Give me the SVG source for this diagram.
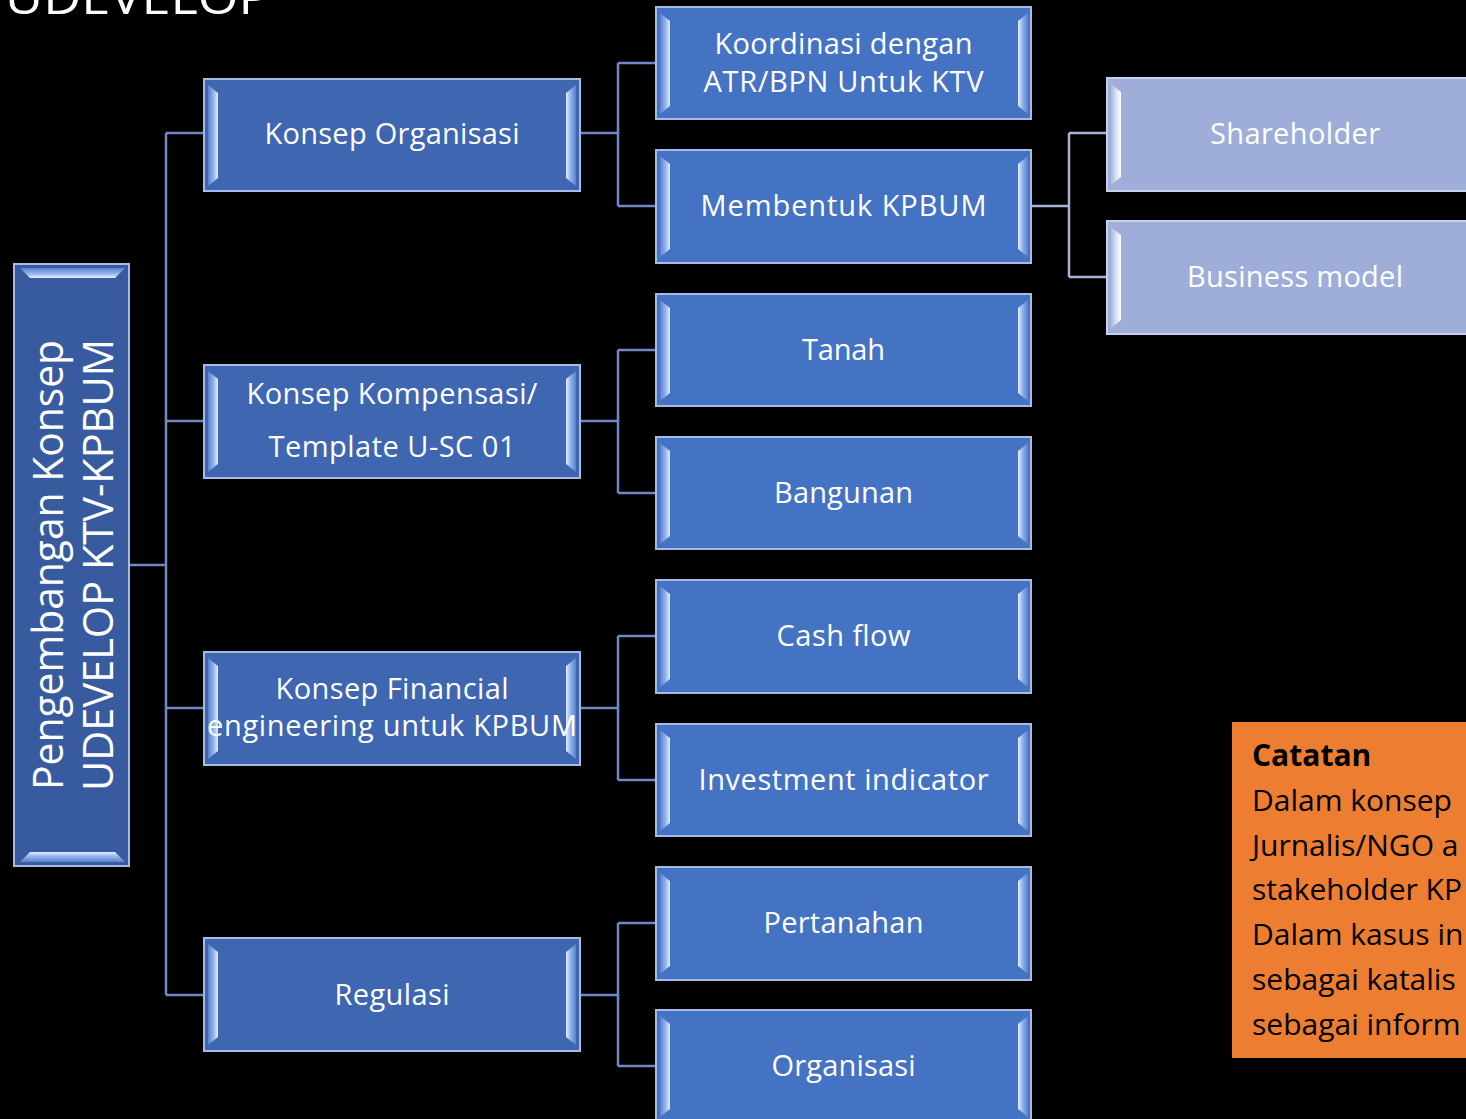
<svg xmlns="http://www.w3.org/2000/svg" width="1466" height="1119" viewBox="0 0 1466 1119">
<defs>
<style>
.lbl{font-family:"Open Sans","Liberation Sans",sans-serif;font-size:29px;fill:#ffffff;text-anchor:middle}
.note{font-family:"Open Sans","Liberation Sans",sans-serif;font-size:30px;fill:#000000}
.l1{fill:#3E66B1;stroke:#A9BBE2;stroke-width:2}
.l2{fill:#4573C4;stroke:#A9BBE2;stroke-width:2}
.l3{fill:#9EAED9;stroke:#C7D1EC;stroke-width:2}
.root{fill:#385B9F;stroke:#A9BBE2;stroke-width:2}
.conn{fill:none;stroke:#7089C4;stroke-width:2.5}
.conn3{fill:none;stroke:#A8B4D6;stroke-width:2.5}
</style>
<linearGradient id="gL" x1="0" y1="0" x2="1" y2="0">
<stop offset="0" stop-color="#5a80cc"/><stop offset="0.6" stop-color="#9ab8ef"/><stop offset="1" stop-color="#e6f0ff"/>
</linearGradient>
<linearGradient id="gR" x1="0" y1="0" x2="1" y2="0">
<stop offset="0" stop-color="#e6f0ff"/><stop offset="0.4" stop-color="#9ab8ef"/><stop offset="1" stop-color="#5a80cc"/>
</linearGradient>
<linearGradient id="gT" x1="0" y1="0" x2="0" y2="1">
<stop offset="0" stop-color="#5a80cc"/><stop offset="0.6" stop-color="#9ab8ef"/><stop offset="1" stop-color="#e6f0ff"/>
</linearGradient>
<linearGradient id="gB" x1="0" y1="0" x2="0" y2="1">
<stop offset="0" stop-color="#e6f0ff"/><stop offset="0.4" stop-color="#9ab8ef"/><stop offset="1" stop-color="#5a80cc"/>
</linearGradient>
<linearGradient id="gL3" x1="0" y1="0" x2="1" y2="0">
<stop offset="0" stop-color="#a9b8e0"/><stop offset="0.6" stop-color="#dfe6f7"/><stop offset="1" stop-color="#ffffff"/>
</linearGradient>
<g id="bev">
<path d="M4 6 L14 14 L14 99 L4 107 Z" fill="url(#gL)"/>
<path d="M372 6 L362 14 L362 99 L372 107 Z" fill="url(#gR)"/>
</g>
<g id="bev3">
<path d="M4 6 L14 14 L14 99 L4 107 Z" fill="url(#gL3)"/>
</g>
</defs>
<rect x="0" y="0" width="1466" height="1119" fill="#000000"/>
<text x="5" y="14" font-family="Open Sans, Liberation Sans, sans-serif" font-size="46" fill="#ffffff" textLength="265" lengthAdjust="spacingAndGlyphs">UDEVELOP</text>

<g id="connectors">
<path class="conn" d="M129 565 H166 M166 133 V995 M166 133 H204 M166 421 H204 M166 708 H204 M166 995 H204"/>
<path class="conn" d="M580 133 H618 M618 63 V206 M618 63 H656 M618 206 H656"/>
<path class="conn" d="M580 421 H618 M618 350 V493 M618 350 H656 M618 493 H656"/>
<path class="conn" d="M580 708 H618 M618 636 V780 M618 636 H656 M618 780 H656"/>
<path class="conn" d="M580 995 H618 M618 923 V1066 M618 923 H656 M618 1066 H656"/>
<path class="conn3" d="M1031 206 H1069 M1069 133 V277 M1069 133 H1107 M1069 277 H1107"/>
</g>

<g id="root">
<rect class="root" x="14" y="264" width="115" height="602"/>
<path d="M20 268 L125 268 L115 278 L30 278 Z" fill="url(#gT)"/>
<path d="M20 862 L125 862 L115 852 L30 852 Z" fill="url(#gB)"/>
<text class="lbl" transform="translate(63,565) rotate(-90)" style="font-size:42px" textLength="450" lengthAdjust="spacingAndGlyphs">Pengembangan Konsep</text>
<text class="lbl" transform="translate(113,565) rotate(-90)" style="font-size:42px" textLength="452" lengthAdjust="spacingAndGlyphs">UDEVELOP KTV-KPBUM</text>
</g>

<g id="n-konsep-organisasi" transform="translate(204,79)">
<rect class="l1" x="0" y="0" width="376" height="112"/><use href="#bev"/>
<text class="lbl" x="188" y="65" textLength="255">Konsep Organisasi</text>
</g>
<g id="n-konsep-kompensasi" transform="translate(204,365)">
<rect class="l1" x="0" y="0" width="376" height="113"/><use href="#bev"/>
<text class="lbl" x="188" y="39" textLength="291">Konsep Kompensasi/</text>
<text class="lbl" x="188" y="92" textLength="247">Template U-SC 01</text>
</g>
<g id="n-konsep-financial" transform="translate(204,652)">
<rect class="l1" x="0" y="0" width="376" height="113"/><use href="#bev"/>
<text class="lbl" x="188" y="47" textLength="233">Konsep Financial</text>
<text class="lbl" x="188" y="84" textLength="370">engineering untuk KPBUM</text>
</g>
<g id="n-regulasi" transform="translate(204,938)">
<rect class="l1" x="0" y="0" width="376" height="113"/><use href="#bev"/>
<text class="lbl" x="188" y="67" textLength="115">Regulasi</text>
</g>

<g id="n-koordinasi" transform="translate(656,7)">
<rect class="l2" x="0" y="0" width="375" height="112"/><use href="#bev"/>
<text class="lbl" x="187.5" y="47" textLength="258">Koordinasi dengan</text>
<text class="lbl" x="187.5" y="85" textLength="280">ATR/BPN Untuk KTV</text>
</g>
<g id="n-membentuk" transform="translate(656,150)">
<rect class="l2" x="0" y="0" width="375" height="113"/><use href="#bev"/>
<text class="lbl" x="187.5" y="66" textLength="286">Membentuk KPBUM</text>
</g>
<g id="n-tanah" transform="translate(656,294)">
<rect class="l2" x="0" y="0" width="375" height="112"/><use href="#bev"/>
<text class="lbl" x="187.5" y="66" textLength="83">Tanah</text>
</g>
<g id="n-bangunan" transform="translate(656,437)">
<rect class="l2" x="0" y="0" width="375" height="112"/><use href="#bev"/>
<text class="lbl" x="187.5" y="66" textLength="139">Bangunan</text>
</g>
<g id="n-cashflow" transform="translate(656,580)">
<rect class="l2" x="0" y="0" width="375" height="113"/><use href="#bev"/>
<text class="lbl" x="187.5" y="66" textLength="134">Cash flow</text>
</g>
<g id="n-investment" transform="translate(656,724)">
<rect class="l2" x="0" y="0" width="375" height="112"/><use href="#bev"/>
<text class="lbl" x="187.5" y="66" textLength="290">Investment indicator</text>
</g>
<g id="n-pertanahan" transform="translate(656,867)">
<rect class="l2" x="0" y="0" width="375" height="113"/><use href="#bev"/>
<text class="lbl" x="187.5" y="66" textLength="160">Pertanahan</text>
</g>
<g id="n-organisasi" transform="translate(656,1010)">
<rect class="l2" x="0" y="0" width="375" height="113"/><use href="#bev"/>
<text class="lbl" x="187.5" y="66" textLength="144">Organisasi</text>
</g>

<g id="n-shareholder" transform="translate(1107,78)">
<rect class="l3" x="0" y="0" width="380" height="113"/><use href="#bev3"/>
<text class="lbl" x="188" y="66" textLength="170">Shareholder</text>
</g>
<g id="n-business" transform="translate(1107,221)">
<rect class="l3" x="0" y="0" width="380" height="113"/><use href="#bev3"/>
<text class="lbl" x="188" y="66" textLength="216">Business model</text>
</g>

<g id="note">
<rect x="1232" y="722" width="260" height="336" fill="#ED7D31"/>
<text class="note" x="1252" y="766" font-weight="bold">Catatan</text>
<text class="note" x="1252" y="811">Dalam konsep</text>
<text class="note" x="1252" y="856">Jurnalis/NGO a</text>
<text class="note" x="1252" y="900">stakeholder KP</text>
<text class="note" x="1252" y="945">Dalam kasus in</text>
<text class="note" x="1252" y="990">sebagai katalis</text>
<text class="note" x="1252" y="1035">sebagai inform</text>
</g>
</svg>
